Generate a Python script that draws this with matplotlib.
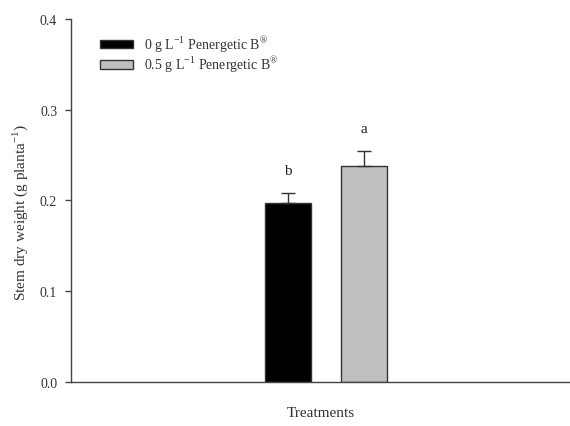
import matplotlib.pyplot as plt
from matplotlib.patches import Patch

treatments = ["0 g L$^{-1}$ Penergetic B$^{®}$", "0.5 g L$^{-1}$ Penergetic B$^{®}$"]
means = [0.197, 0.238]
errors = [0.011, 0.016]
letters = ["b", "a"]
colors = ["black", "#c0c0c0"]

plt.rcParams['font.family'] = ['Liberation Serif', 'DejaVu Serif']
plt.rcParams['mathtext.fontset'] = 'custom'
plt.rcParams['mathtext.rm'] = 'Liberation Serif'

fig = plt.figure(figsize=(5.7, 4.27), dpi=100)
ax = fig.add_axes([0.1246, 0.104, 0.8754, 0.849])

pos = [0, 1]
ax.bar(pos, means, width=0.605, color=colors, edgecolor='#333333', linewidth=1.0,
       yerr=[[0, 0], errors], capsize=5, error_kw=dict(ecolor='#333333', elinewidth=1.0, capthick=1.0))
for p, m, e, l in zip(pos, means, errors, letters):
    ax.text(p, m + e + 0.018, l, ha='center', va='bottom', fontsize=11, color='#222222')

ax.set_xlim(-2.86, 3.71)
ax.set_ylim(0, 0.4)
ax.set_yticks([0.0, 0.1, 0.2, 0.3, 0.4])
ax.set_yticklabels(["0.0", "0.1", "0.2", "0.3", "0.4"], fontsize=10, color='#333333')
ax.set_xticks([])
ax.tick_params(axis='y', direction='out', length=4, width=1, color='#444444', pad=6)
for s in ['top', 'right']:
    ax.spines[s].set_visible(False)
for s in ['left', 'bottom']:
    ax.spines[s].set_color('#444444')
    ax.spines[s].set_linewidth(1.0)

ax.set_ylabel("Stem dry weight (g planta$^{-1}$)", fontsize=11, color='#333333')
ax.yaxis.set_label_coords(-0.083, 0.47)
ax.set_xlabel("Treatments", fontsize=11, color='#333333')
ax.xaxis.set_label_coords(0.5, -0.068)

handles = [Patch(facecolor=c, edgecolor='#333333', linewidth=1.0) for c in colors]
ax.legend(handles, treatments, loc='upper left', bbox_to_anchor=(0.058, 0.96), frameon=False,
          borderaxespad=0, borderpad=0,
          fontsize=10, handlelength=2.4, handleheight=0.6, handletextpad=0.75, labelspacing=0.02,
          labelcolor='#333333')

fig.savefig("out.png", dpi=100)
